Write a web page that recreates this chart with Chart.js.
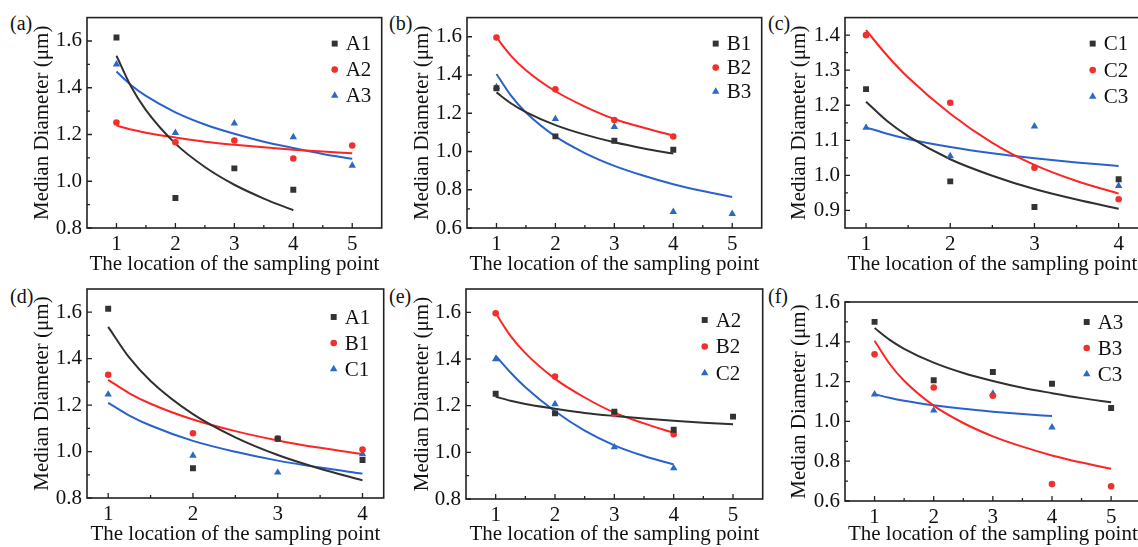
<!DOCTYPE html>
<html>
<head>
<meta charset="utf-8">
<script src="https://cdn.jsdelivr.net/npm/chart.js@4.4.1/dist/chart.umd.min.js"></script>
<style>
  html, body { margin: 0; padding: 0; background: #fff; width: 1138px; height: 547px; overflow: hidden; }
  body { position: relative; font-family: "Liberation Serif", serif; }
  canvas { position: absolute; }
  .tag { position: absolute; font-size: 20px; line-height: 20px; color: #111; }
</style>
</head>
<body>
<div class="tag" style="left:10px;top:13px">(a)</div>
<div class="tag" style="left:389px;top:13px">(b)</div>
<div class="tag" style="left:768px;top:13px">(c)</div>
<div class="tag" style="left:10px;top:286px">(d)</div>
<div class="tag" style="left:389px;top:286px">(e)</div>
<div class="tag" style="left:768px;top:286px">(f)</div>
<canvas id="pa"></canvas>
<canvas id="pb"></canvas>
<canvas id="pc"></canvas>
<canvas id="pd"></canvas>
<canvas id="pe"></canvas>
<canvas id="pf"></canvas>
<script>
// sampling point locations
const samplePoints = [1, 2, 3, 4, 5];
const fitSteps = [1, 1.25, 1.5, 2, 2.5, 3, 3.5, 4, 4.5, 5];

// measured median diameter (um) at each point
const A1 = [1.615, 0.928, 1.055, 0.964];
const A2 = [1.251, 1.167, 1.174, 1.097, 1.153];
const A3 = [1.500, 1.207, 1.248, 1.189, 1.067];
const B1 = [1.331, 1.079, 1.056, 1.009];
const B2 = [1.596, 1.325, 1.165, 1.078];
const B3 = [1.337, 1.170, 1.129, 0.685, 0.674];
const C1 = [1.246, 0.983, 0.910, 0.989];
const C2 = [1.400, 1.207, 1.022, 0.932];
const C3 = [1.136, 1.055, 1.140, 0.970];

// fitted curves
const fitA1 = [1.537, 1.404, 1.304, 1.161, 1.061, 0.985, 0.926, 0.876];
const fitA2 = [1.238, 1.221, 1.207, 1.187, 1.169, 1.156, 1.145, 1.135, 1.127, 1.120];
const fitA3 = [1.469, 1.411, 1.365, 1.295, 1.243, 1.203, 1.169, 1.142, 1.117, 1.096];
const fitB1 = [1.309, 1.251, 1.206, 1.138, 1.088, 1.048, 1.016, 0.989];
const fitB2 = [1.596, 1.499, 1.425, 1.315, 1.235, 1.170, 1.124, 1.083];
const fitB3 = [1.405, 1.291, 1.204, 1.079, 0.992, 0.925, 0.873, 0.829, 0.793, 0.762];
const fitC1 = [1.210, 1.155, 1.112, 1.046, 0.999, 0.961, 0.931, 0.905];
const fitC2 = [1.414, 1.342, 1.279, 1.176, 1.093, 1.030, 0.984, 0.948];
const fitC3 = [1.137, 1.119, 1.104, 1.081, 1.063, 1.049, 1.037, 1.027];

// tick labels
const xTicks5 = [1, 2, 3, 4, 5];
const xTicks4 = [1, 2, 3, 4];
const yTicks08 = [0.8, 1.0, 1.2, 1.4, 1.6];
const yTicks06 = [0.6, 0.8, 1.0, 1.2, 1.4, 1.6];
const yTicks09 = [0.9, 1.0, 1.1, 1.2, 1.3, 1.4];

const FONT = '"Liberation Serif", "Times New Roman", serif';
const INK = '#111';
// marker colour, fit line colour, marker style, marker radius
const looks = [
  { dot: '#333333', line: '#303030', style: 'rect', r: 4.2 },
  { dot: '#f0302c', line: '#ff2424', style: 'circle', r: 3.3 },
  { dot: '#2c68c6', line: '#2a62cc', style: 'triangle', r: 4.3 },
];

function xy(vals, xs) {
  return vals.map((v, i) => ({ x: xs[i], y: v }));
}

function drawMarker(ctx, style, r, x, y) {
  ctx.beginPath();
  if (style === 'rect') {
    const s = Math.SQRT1_2 * r;
    ctx.rect(x - s, y - s, 2 * s, 2 * s);
  } else if (style === 'circle') {
    ctx.arc(x, y, r, 0, Math.PI * 2);
  } else {
    let a = 0;
    ctx.moveTo(x + Math.sin(a) * r, y - Math.cos(a) * r);
    a += 2 * Math.PI / 3;
    ctx.lineTo(x + Math.sin(a) * r, y - Math.cos(a) * r);
    a += 2 * Math.PI / 3;
    ctx.lineTo(x + Math.sin(a) * r, y - Math.cos(a) * r);
    ctx.closePath();
  }
  ctx.fill();
}

// box around the plot + inward major/minor ticks
const framePlugin = {
  id: 'frame',
  afterDatasetsDraw(chart, args, opts) {
    const { ctx, chartArea: a, scales } = chart;
    ctx.save();
    ctx.strokeStyle = '#222';
    ctx.lineWidth = 1.6;
    ctx.strokeRect(a.left, a.top, a.right - a.left, a.bottom - a.top);
    ctx.lineWidth = 1.3;
    ctx.beginPath();
    const xt = opts.xTicks, yt = opts.yTicks;
    xt.forEach((v, i) => {
      const px = scales.x.getPixelForValue(v);
      ctx.moveTo(px, a.bottom); ctx.lineTo(px, a.bottom - 5);
      if (i < xt.length - 1) {
        const mx = scales.x.getPixelForValue((v + xt[i + 1]) / 2);
        ctx.moveTo(mx, a.bottom); ctx.lineTo(mx, a.bottom - 3);
      }
    });
    yt.forEach((v, i) => {
      const py = scales.y.getPixelForValue(v);
      ctx.moveTo(a.left, py); ctx.lineTo(a.left + 5, py);
      if (i < yt.length - 1) {
        const my = scales.y.getPixelForValue((v + yt[i + 1]) / 2);
        ctx.moveTo(a.left, my); ctx.lineTo(a.left + 3, my);
      }
    });
    ctx.stroke();
    ctx.restore();
  }
};

// legend drawn inside the top-right corner of the plot
const legendPlugin = {
  id: 'innerLegend',
  afterDraw(chart, args, opts) {
    const { ctx, chartArea: a } = chart;
    const sets = chart.data.datasets.filter(d => !d.showLine);
    ctx.save();
    ctx.font = '21px ' + FONT;
    ctx.textBaseline = 'middle';
    sets.forEach((d, i) => {
      const mx = a.right - opts.dx;
      const my = a.top + opts.top + i * opts.step;
      ctx.fillStyle = d.pointBackgroundColor;
      drawMarker(ctx, d.pointStyle, d.pointRadius, mx, my);
      ctx.fillStyle = INK;
      ctx.fillText(d.label, mx + 11, my + 1);
    });
    ctx.restore();
  }
};

function makePanel(id, box, series, xr, xt, yr, yt, leg) {
  const cv = document.getElementById(id);
  const [L, T, R, B] = box.area;
  const w = R + 2 - box.left, h = box.bottom - box.top;
  cv.width = w; cv.height = h;
  cv.style.left = box.left + 'px';
  cv.style.top = box.top + 'px';
  cv.style.width = w + 'px';
  cv.style.height = h + 'px';

  const datasets = [];
  series.forEach((s, k) => {
    const lk = looks[k];
    datasets.push({
      label: s.name, data: xy(s.vals, samplePoints), showLine: false,
      pointStyle: lk.style, pointRadius: lk.r, pointHoverRadius: lk.r,
      pointBackgroundColor: lk.dot, pointBorderWidth: 0,
      backgroundColor: lk.dot, borderColor: lk.dot, order: 0
    });
  });
  series.forEach((s, k) => {
    const lk = looks[k];
    datasets.push({
      label: s.name + ' fit', data: xy(s.fit, fitSteps), showLine: true,
      borderColor: lk.line, borderWidth: 2, pointRadius: 0,
      cubicInterpolationMode: 'monotone', fill: false, order: 1
    });
  });

  const tickFont = { family: FONT, size: 21 };
  const titleFont = { family: FONT, size: 21, lineHeight: 1 };

  return new Chart(cv, {
    type: 'line',
    data: { datasets },
    plugins: [framePlugin, legendPlugin],
    options: {
      responsive: false,
      maintainAspectRatio: false,
      animation: false,
      devicePixelRatio: 1,
      events: [],
      layout: { padding: { left: 0, top: T - box.top, right: 2, bottom: 0 } },
      plugins: {
        legend: { display: false },
        tooltip: { enabled: false },
        frame: { xTicks: xt, yTicks: yt },
        innerLegend: leg
      },
      scales: {
        x: {
          type: 'linear', min: xr[0], max: xr[1],
          afterBuildTicks: s => { s.ticks = xt.map(v => ({ value: v })); },
          afterFit: s => { s.height = box.bottom - B; },
          grid: { display: false, drawTicks: false },
          border: { display: false },
          ticks: { padding: 4, font: tickFont, color: INK, maxRotation: 0, autoSkip: false,
                   callback: v => String(v) },
          title: { display: true, text: 'The location of the sampling point',
                   font: titleFont, color: INK, padding: { top: 0, bottom: 2 } }
        },
        y: {
          type: 'linear', min: yr[0], max: yr[1],
          afterBuildTicks: s => { s.ticks = yt.map(v => ({ value: v })); },
          afterFit: s => { s.width = L - box.left; },
          grid: { display: false, drawTicks: false },
          border: { display: false },
          ticks: { padding: 5, font: tickFont, color: INK, autoSkip: false,
                   callback: v => v.toFixed(1) },
          title: { display: true, text: 'Median Diameter (\u03bcm)',
                   font: titleFont, color: INK, padding: { top: 0, bottom: 0 } }
        }
      }
    }
  });
}

makePanel('pa', { left: 32, top: 0, bottom: 277, area: [87, 17, 384, 228] },
  [{ name: 'A1', vals: A1, fit: fitA1 }, { name: 'A2', vals: A2, fit: fitA2 }, { name: 'A3', vals: A3, fit: fitA3 }],
  [0.5, 5.5], xTicks5, [0.8, 1.7], yTicks08, { dx: 47, top: 26, step: 26 });

makePanel('pb', { left: 412, top: 0, bottom: 277, area: [467, 17, 764, 228] },
  [{ name: 'B1', vals: B1, fit: fitB1 }, { name: 'B2', vals: B2, fit: fitB2 }, { name: 'B3', vals: B3, fit: fitB3 }],
  [0.5, 5.5], xTicks5, [0.6, 1.7], yTicks06, { dx: 46, top: 26, step: 24 });

makePanel('pc', { left: 789, top: 0, bottom: 277, area: [845, 17, 1142, 228] },
  [{ name: 'C1', vals: C1, fit: fitC1 }, { name: 'C2', vals: C2, fit: fitC2 }, { name: 'C3', vals: C3, fit: fitC3 }],
  [0.75, 4.25], xTicks4, [0.85, 1.45], yTicks09, { dx: 47, top: 26, step: 26.5 });

makePanel('pd', { left: 32, top: 270, bottom: 547, area: [87, 289, 386, 498] },
  [{ name: 'A1', vals: A1, fit: fitA1 }, { name: 'B1', vals: B1, fit: fitB1 }, { name: 'C1', vals: C1, fit: fitC1 }],
  [0.75, 4.25], xTicks4, [0.8, 1.7], yTicks08, { dx: 50, top: 28, step: 26 });

makePanel('pe', { left: 412, top: 270, bottom: 547, area: [466, 289, 765, 499] },
  [{ name: 'A2', vals: A2, fit: fitA2 }, { name: 'B2', vals: B2, fit: fitB2 }, { name: 'C2', vals: C2, fit: fitC2 }],
  [0.5, 5.5], xTicks5, [0.8, 1.7], yTicks08, { dx: 58, top: 31, step: 26.5 });

makePanel('pf', { left: 789, top: 270, bottom: 547, area: [845, 302, 1143, 501] },
  [{ name: 'A3', vals: A3, fit: fitA3 }, { name: 'B3', vals: B3, fit: fitB3 }, { name: 'C3', vals: C3, fit: fitC3 }],
  [0.5, 5.5], xTicks5, [0.6, 1.6], yTicks06, { dx: 54, top: 20, step: 26 });
</script>
</body>
</html>
